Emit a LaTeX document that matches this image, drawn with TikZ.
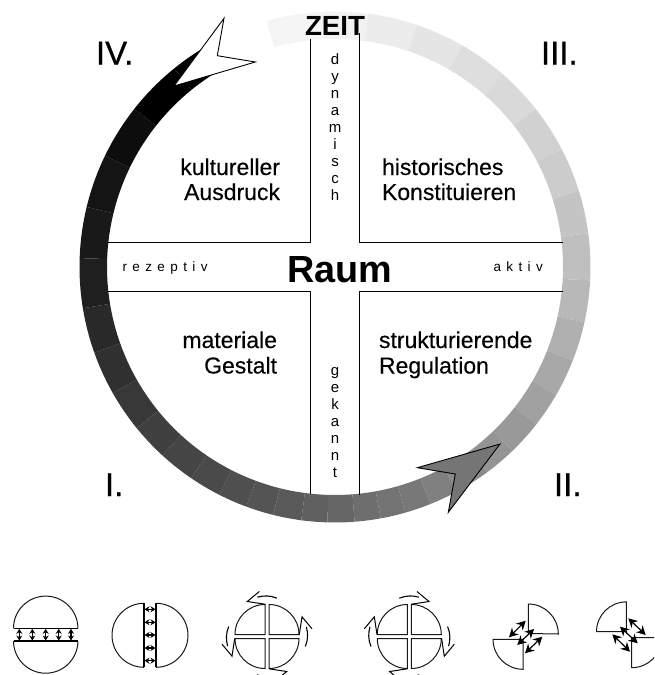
\documentclass[tikz,border=0pt]{standalone}
\usepackage{fontspec}
\setmainfont{Liberation Sans}
\newfontfamily\spacedfont[LetterSpace=40]{Liberation Sans}
\newfontfamily\heavyfont[FakeBold=0.7]{Liberation Sans}
\newfontfamily\midfont[FakeBold=0.25]{Liberation Sans}
\usetikzlibrary{arrows.meta,calc}
\tikzset{
  x=1pt,y=-1pt,
  txt/.style={inner sep=0pt,outer sep=0pt},
  quad/.style={txt,font=\fontsize{23}{25.5}\midfont},
  roman/.style={txt,anchor=base west,font=\fontsize{33}{36}\heavyfont},
  vert/.style={txt,anchor=north,align=center,font=\fontsize{15}{17}\selectfont},
  side/.style={txt,anchor=base west,font=\fontsize{13.5}{15}\spacedfont},
  crossline/.style={line width=1pt,black},
  dart/.style={line width=0.9pt,black,line join=miter},
  outline/.style={line width=1pt,black!90},
  chord/.style={line width=1.6pt,black},
  smallarrow/.style={line width=1.3pt,black,{Stealth[length=5pt,width=6pt]}-{Stealth[length=5pt,width=6pt]}},
  bigarrow/.style={line width=1.2pt,black,{Stealth[length=9pt,width=9.5pt]}-{Stealth[length=9pt,width=9.5pt]}},
  hook/.style={line width=1pt,black,line join=miter},
  hookarc/.style={line width=1.1pt,black,line cap=butt},
}
\begin{document}
\begin{tikzpicture}
\path[use as bounding box] (0,0) rectangle (654,675);
\clip (0,0) rectangle (654,675);
\coordinate (C) at (335,267);
% ring segments
\foreach \a/\b/\g in {-15.5/-3/.96,-3/7.5/.95,7.5/18.7/.925,18.7/29.9/.90,29.9/41/.87,41/51.8/.85,51.8/62.5/.82,62.5/72.6/.80,72.6/82.4/.77,82.4/93/.75,93/102.5/.72,102.5/111.5/.69,111.5/120/.66,120/128/.63,128/136/.6,136/143.5/.58,143.5/151.5/.54,151.5/158/.5,158/164/.47,164/169.7/.45,169.7/175.6/.43,175.6/181.7/.40,181.7/187.6/.375,187.6/194/.35,194/200.3/.33,200.3/207/.31,207/214.3/.29,214.3/222.5/.27,222.5/230.9/.25,230.9/240.4/.22,240.4/250.4/.19,250.4/260.7/.16,260.7/272/.12,272/283.6/.1,283.6/295.8/.08,295.8/308.3/.05,308.3/321/0,321/328/0}{
  \definecolor{segc}{gray}{\g}
  \pgfmathsetmacro\sa{90-\a}\pgfmathsetmacro\sb{90-\b}
  \fill[segc] (C) ++(\sa:255.5pt) arc[start angle=\sa,end angle=\sb,radius=255.5pt]
     -- ($(C)+(\sb:228pt)$) arc[start angle=\sb,end angle=\sa,radius=228pt] -- cycle;
}
% cross
\draw[crossline] (310,39) -- (310,242) -- (107,242);
\draw[crossline] (359,33) -- (359,242) -- (563,242);
\draw[crossline] (107.5,291) -- (310,291) -- (310,494);
\draw[crossline] (359,495) -- (359,291) -- (563,291);
% darts
\draw[dart,fill=white] (174,86) -- (255.3,62) -- (217.3,55.7) -- (224,18.3) -- cycle;
\draw[dart,fill=black!54] (500,444) -- (417.3,467.7) -- (455.3,474) -- (448.3,512.3) -- cycle;
% labels
\node[txt,anchor=base west,font=\fontsize{27.7}{30}\selectfont\bfseries] (zeit) at (305,35) {ZEIT};
\node[txt,anchor=base west,font=\fontsize{37.8}{40}\selectfont\bfseries] (raum) at (287,282) {Raum};
\node[roman] (r4) at (96,64.5) {IV.};
\node[roman] (r3) at (541,64.5) {III.};
\node[roman] (r1) at (105,496) {I.};
\node[roman] (r2) at (554,496) {II.};
\node[quad,anchor=base east] (k1) at (280,175) {kultureller};
\node[quad,anchor=base east] (k2) at (280,200) {Ausdruck};
\node[quad,anchor=base west] (h1) at (382,175) {historisches};
\node[quad,anchor=base west] (h2) at (382,200) {Konstituieren};
\node[quad,anchor=base east] (m1) at (277,348) {materiale};
\node[quad,anchor=base east] (m2) at (277,373.5) {Gestalt};
\node[quad,anchor=base west] (s1) at (379,348) {strukturierende};
\node[quad,anchor=base west] (s2) at (379,373.5) {Regulation};
\node[side] (rez) at (122.5,271.5) {rezeptiv};
\node[side] (akt) at (493.5,271.5) {aktiv};
\node[vert] (dyn) at (335,54) {d\\y\\n\\a\\m\\i\\s\\c\\h};
\node[vert] (gek) at (335,367) {g\\e\\k\\a\\n\\n\\t};
% icon 1
\draw[outline] (13.5,628.3) arc[start angle=180,end angle=0,radius=32.2pt];
\draw[chord] (13.5,628.3) -- (77.7,628.3);
\draw[outline] (13.5,641) arc[start angle=180,end angle=360,radius=32.2pt];
\draw[chord] (13.5,641) -- (77.7,641);
\foreach \x in {19.3,32.3,45.7,58.7,71}{\draw[smallarrow] (\x,628.8) -- (\x,640.5);}
% icon 2
\draw[outline] (144,603.3) arc[start angle=90,end angle=270,radius=32pt];
\draw[chord] (144,603.3) -- (144,667);
\draw[outline] (156,603.3) arc[start angle=90,end angle=-90,radius=32pt];
\draw[chord] (156,603.3) -- (156,667);
\foreach \y in {609.3,622.3,635,648,660.7}{\draw[smallarrow] (144.5,\y) -- (155.5,\y);}
% icons 3 and 4: four quarters with turning hooks
\foreach \cx/\mir in {267/1,409.3/-1}{
  \begin{scope}[shift={(\cx,636.5)},xscale=\mir]
  \foreach \r in {0,90,180,270}{
    \begin{scope}[rotate=\r]
      \draw[outline] (-2,-2) -- (-2,-32) arc[start angle=90,end angle=180,radius=30pt] -- cycle;
      \draw[hook] (-7.7,-45) -- (-19.7,-35) -- (-2,-32.3);
      \draw[hookarc] (10,-38.3) .. controls (3,-41.3) and (-4,-41) .. (-9.7,-39.3);
    \end{scope}
  }
  \end{scope}
}
% icon 5
\draw[outline,fill=white] (528.3,633.5) -- (528.3,604) arc[start angle=90,end angle=0,radius=30pt] -- cycle;
\draw[outline,fill=white] (523,639.3) -- (493,639.3) arc[start angle=180,end angle=270,radius=30pt] -- cycle;
\draw[bigarrow] (509,637.3) -- (525.7,620.7);
\draw[bigarrow] (517.3,645) -- (534,629);
\draw[bigarrow] (525,653.3) -- (542.3,636.7);
% icon 6
\draw[outline,fill=white] (626.3,631.7) -- (596.5,631.7) arc[start angle=180,end angle=90,radius=29.8pt] -- cycle;
\draw[outline,fill=white] (631.7,637.7) -- (661.7,637.7) arc[start angle=0,end angle=-90,radius=30pt] -- cycle;
\draw[bigarrow] (628.3,618.3) -- (645.7,635);
\draw[bigarrow] (620,626.7) -- (637.7,643.3);
\draw[bigarrow] (612.3,634.3) -- (630,651.7);
\end{tikzpicture}
\end{document}
